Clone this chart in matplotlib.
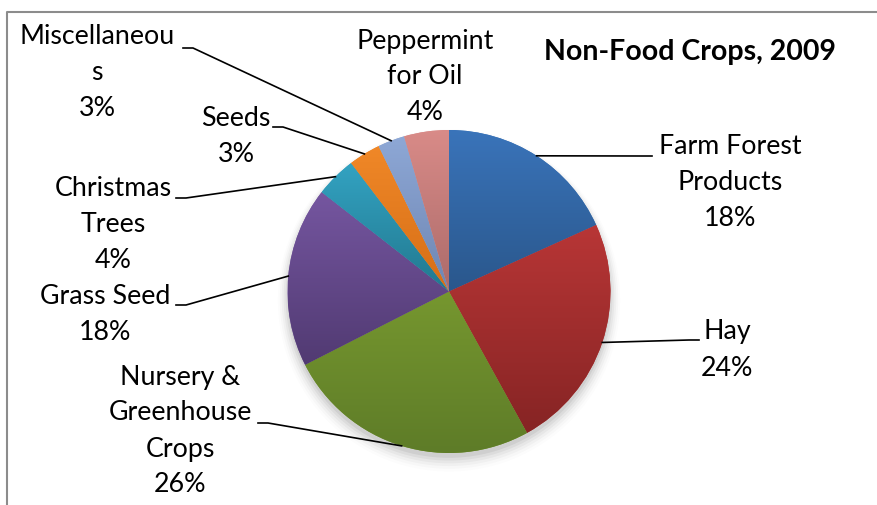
import numpy as np
import matplotlib
matplotlib.use("Agg")
import matplotlib.pyplot as plt
from matplotlib.colors import to_rgb

# ---- data ----
categories = ["Farm Forest\nProducts", "Hay", "Nursery &\nGreenhouse\nCrops", "Grass Seed",
              "Christmas\nTrees", "Seeds", "Miscellaneou\ns", "Peppermint\nfor Oil"]
values = [18.3, 23.8, 25.6, 18.1, 4.1, 3.2, 2.7, 4.5]
title = "Non-Food Crops, 2009"

top_colors = ["#3A74BA", "#B83636", "#76972F", "#7556A0", "#33A3C2", "#F08828", "#8EA8D6", "#D98B88"]
bot_colors = ["#2A578C", "#862424", "#5E7C28", "#513A72", "#22788F", "#D66E16", "#6E86B3", "#AC6B6A"]

W, H = 877, 505
CX, CY, R = 449.0, 291.5, 161.5

def d(px, py):
    return ((px - CX) / R, (CY - py) / R)

fig = plt.figure(figsize=(W / 100, H / 100), dpi=100)
ax = fig.add_axes([0, 0, 1, 1])
ax.set_xlim(-CX / R, (W - CX) / R)
ax.set_ylim((CY - H) / R, CY / R)
ax.set_aspect("equal")
ax.axis("off")

# frame (top and left border)
x0, y0 = d(7, 11.5)
x1, _ = d(W + 5, 0)
_, y1 = d(0, H + 5)
ax.plot([x1, x0, x0], [y0, y0, y1], color="#8C8C8C", lw=1.5, solid_capstyle="butt", zorder=1)

# soft shadow
for i, a in enumerate(np.linspace(0.05, 0.01, 6)):
    sh = plt.Circle((0.0, -0.03 - i * 0.005), 1.0 + i * 0.012, color="black", alpha=a, lw=0, zorder=1)
    ax.add_patch(sh)

wedges, _ = ax.pie(values, startangle=90, counterclock=False, radius=1.0,
                   colors=top_colors, wedgeprops=dict(linewidth=0), center=(0, 0))
for w in wedges:
    w.set_zorder(2)

total = sum(values)
# gradient fill per wedge
for w, tc, bc in zip(wedges, top_colors, bot_colors):
    ext = w.get_path().get_extents()
    tc_, bc_ = np.array(to_rgb(tc)), np.array(to_rgb(bc))
    t = np.linspace(0, 1, 128)[:, None]
    img = (tc_[None, :] * (1 - t) + bc_[None, :] * t)[:, None, :]
    im = ax.imshow(img, extent=(ext.x0, ext.x1, ext.y0, ext.y1), origin="upper",
                   aspect="auto", zorder=3, interpolation="bilinear")
    im.set_clip_path(w)
ax.set_xlim(-CX / R, (W - CX) / R)
ax.set_ylim((CY - H) / R, CY / R)

font = "Lato"
fs = 19.3
# label positions (pixel centers) and leader anchor (pixel) near label
label_pos = [(730, 183), (727, 350), (180, 431), (105, 315), (113, 225), (236, 136), (97, 72), (425, 77)]
leader_start = [(652, 156), (699, 340), (258, 423), (176, 305), (176, 198), (273, 127), (183, 48), None]

theta = 90.0
for i, (lab, v) in enumerate(zip(categories, values)):
    span = v / total * 360.0
    mid = np.deg2rad(theta - span / 2)
    theta -= span
    pct = round(v / total * 100)
    lx, ly = d(*label_pos[i])
    ax.text(lx, ly, f"{lab}\n{pct}%", ha="center", va="center", fontsize=fs,
            family=font, linespacing=1.55, color="black", zorder=5)
    if leader_start[i] is not None:
        sx, sy = d(*leader_start[i])
        ex, ey = np.cos(mid), np.sin(mid)
        hx = sx + (10 / R if sx < 0 else -10 / R)
        ax.plot([sx, hx, ex], [sy, sy, ey], color="black", lw=1.2, zorder=4)

tx, ty = d(690, 52)
ax.text(tx, ty, title, ha="center", va="center", fontsize=20.5, fontweight="bold",
        family=font, color="black", zorder=5)

fig.savefig("out.png", dpi=100)
